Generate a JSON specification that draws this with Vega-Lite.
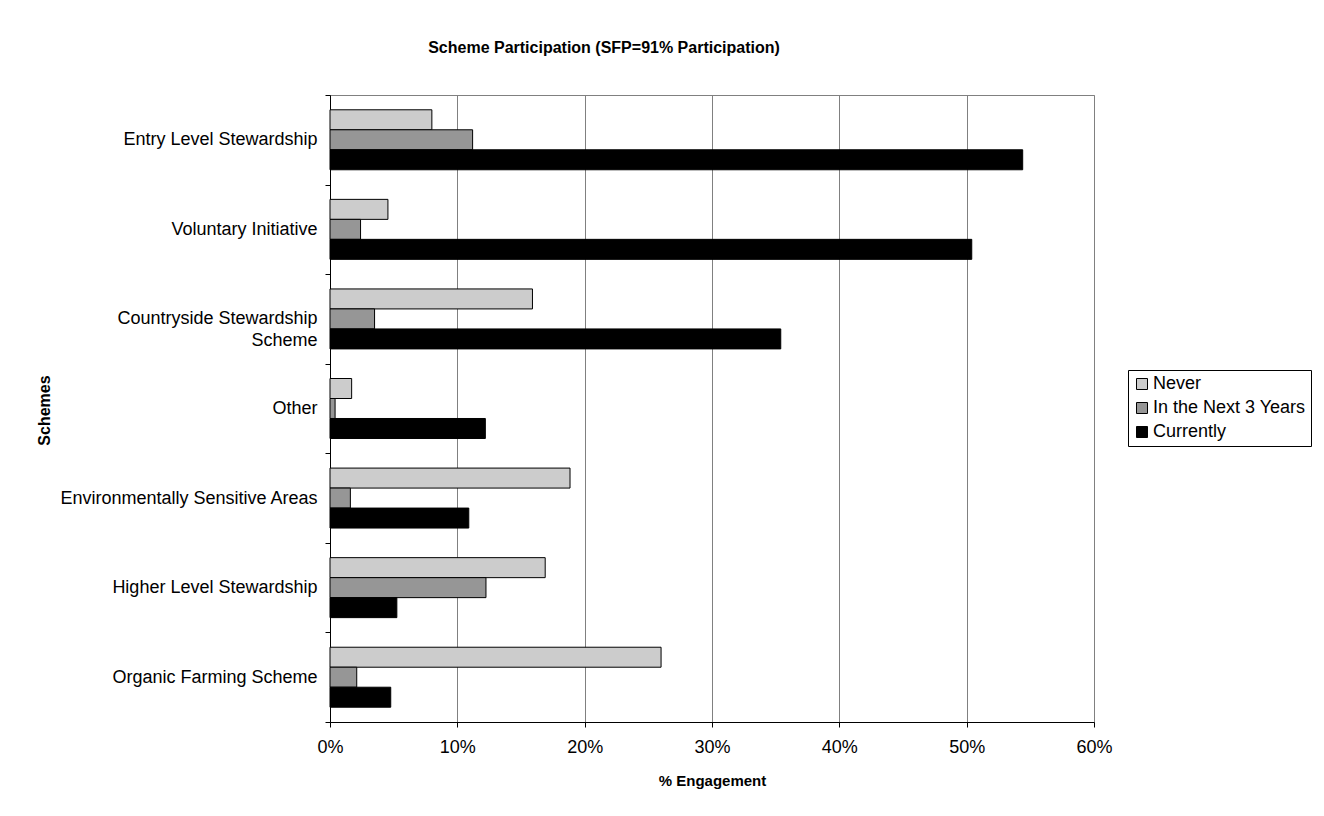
{
  "$schema": "https://vega.github.io/schema/vega-lite/v6.json",
  "autosize": "none",
  "width": 764,
  "height": 627,
  "padding": {"left": 330, "top": 95, "right": 230, "bottom": 94},
  "background": "white",
  "title": {
    "text": "Scheme Participation (SFP=91% Participation)",
    "font": "Liberation Sans",
    "fontSize": 16,
    "fontWeight": "bold",
    "color": "black",
    "anchor": "middle",
    "dx": -108,
    "offset": 30
  },
  "data": {
    "values": [
      {"scheme": "Entry Level Stewardship", "status": "Never", "pct": 0.080},
      {"scheme": "Entry Level Stewardship", "status": "In the Next 3 Years", "pct": 0.112},
      {"scheme": "Entry Level Stewardship", "status": "Currently", "pct": 0.544},
      {"scheme": "Voluntary Initiative", "status": "Never", "pct": 0.0455},
      {"scheme": "Voluntary Initiative", "status": "In the Next 3 Years", "pct": 0.024},
      {"scheme": "Voluntary Initiative", "status": "Currently", "pct": 0.504},
      {"scheme": "Countryside Stewardship Scheme", "status": "Never", "pct": 0.159},
      {"scheme": "Countryside Stewardship Scheme", "status": "In the Next 3 Years", "pct": 0.035},
      {"scheme": "Countryside Stewardship Scheme", "status": "Currently", "pct": 0.354},
      {"scheme": "Other", "status": "Never", "pct": 0.017},
      {"scheme": "Other", "status": "In the Next 3 Years", "pct": 0.004},
      {"scheme": "Other", "status": "Currently", "pct": 0.122},
      {"scheme": "Environmentally Sensitive Areas", "status": "Never", "pct": 0.1885},
      {"scheme": "Environmentally Sensitive Areas", "status": "In the Next 3 Years", "pct": 0.016},
      {"scheme": "Environmentally Sensitive Areas", "status": "Currently", "pct": 0.109},
      {"scheme": "Higher Level Stewardship", "status": "Never", "pct": 0.169},
      {"scheme": "Higher Level Stewardship", "status": "In the Next 3 Years", "pct": 0.1225},
      {"scheme": "Higher Level Stewardship", "status": "Currently", "pct": 0.0525},
      {"scheme": "Organic Farming Scheme", "status": "Never", "pct": 0.260},
      {"scheme": "Organic Farming Scheme", "status": "In the Next 3 Years", "pct": 0.021},
      {"scheme": "Organic Farming Scheme", "status": "Currently", "pct": 0.0477}
    ]
  },
  "mark": {"type": "bar", "stroke": "black", "strokeWidth": 1},
  "encoding": {
    "y": {
      "field": "scheme",
      "type": "nominal",
      "sort": ["Entry Level Stewardship", "Voluntary Initiative", "Countryside Stewardship Scheme", "Other", "Environmentally Sensitive Areas", "Higher Level Stewardship", "Organic Farming Scheme"],
      "scale": {"paddingInner": 0, "paddingOuter": 0},
      "axis": {
        "title": "Schemes",
        "titleFont": "Liberation Sans",
        "titleFontSize": 16,
        "titleFontWeight": "bold",
        "titleColor": "black",
        "titleX": -286,
        "titleY": 315,
        "titleBaseline": "middle",
        "titleAngle": 270,
        "labelFont": "Liberation Sans",
        "labelFontSize": 18,
        "labelColor": "black",
        "labelPadding": 8,
        "labelLimit": 400,
        "labelExpr": "datum.value == 'Countryside Stewardship Scheme' ? ['Countryside Stewardship', 'Scheme'] : datum.value",
        "labelLineHeight": 22,
        "tickBand": "extent",
        "tickSize": 5,
        "tickColor": "black",
        "domainColor": "black",
        "grid": false
      }
    },
    "yOffset": {
      "field": "status",
      "type": "nominal",
      "sort": ["Never", "In the Next 3 Years", "Currently"],
      "scale": {"paddingInner": 0, "paddingOuter": 0.74}
    },
    "x": {
      "field": "pct",
      "type": "quantitative",
      "scale": {"domain": [0, 0.6], "nice": false},
      "axis": {
        "title": "% Engagement",
        "titleFont": "Liberation Sans",
        "titleFontSize": 15,
        "titleFontWeight": "bold",
        "titleColor": "black",
        "titlePadding": 17,
        "values": [0, 0.1, 0.2, 0.3, 0.4, 0.5, 0.6],
        "format": ".0%",
        "labelFlush": false,
        "labelFont": "Liberation Sans",
        "labelFontSize": 18,
        "labelColor": "black",
        "labelPadding": 11,
        "tickSize": 5,
        "tickColor": "black",
        "domainColor": "black",
        "grid": true,
        "gridColor": "#808080",
        "gridWidth": 1
      }
    },
    "fill": {
      "field": "status",
      "type": "nominal",
      "sort": ["Never", "In the Next 3 Years", "Currently"],
      "scale": {"domain": ["Never", "In the Next 3 Years", "Currently"], "range": ["#cccccc", "#969696", "#000000"]},
      "legend": {
        "title": null,
        "orient": "none",
        "legendX": 798,
        "legendY": 275,
        "symbolType": "square",
        "symbolSize": 121,
        "symbolStrokeColor": "black",
        "symbolStrokeWidth": 1,
        "labelFont": "Liberation Sans",
        "labelFontSize": 18,
        "labelColor": "black",
        "labelOffset": 2,
        "labelLimit": 300,
        "rowPadding": 6,
        "strokeColor": "black",
        "fillColor": "white",
        "padding": 5
      }
    }
  },
  "config": {
    "view": {"stroke": "#808080", "strokeWidth": 1},
    "font": "Liberation Sans"
  }
}
